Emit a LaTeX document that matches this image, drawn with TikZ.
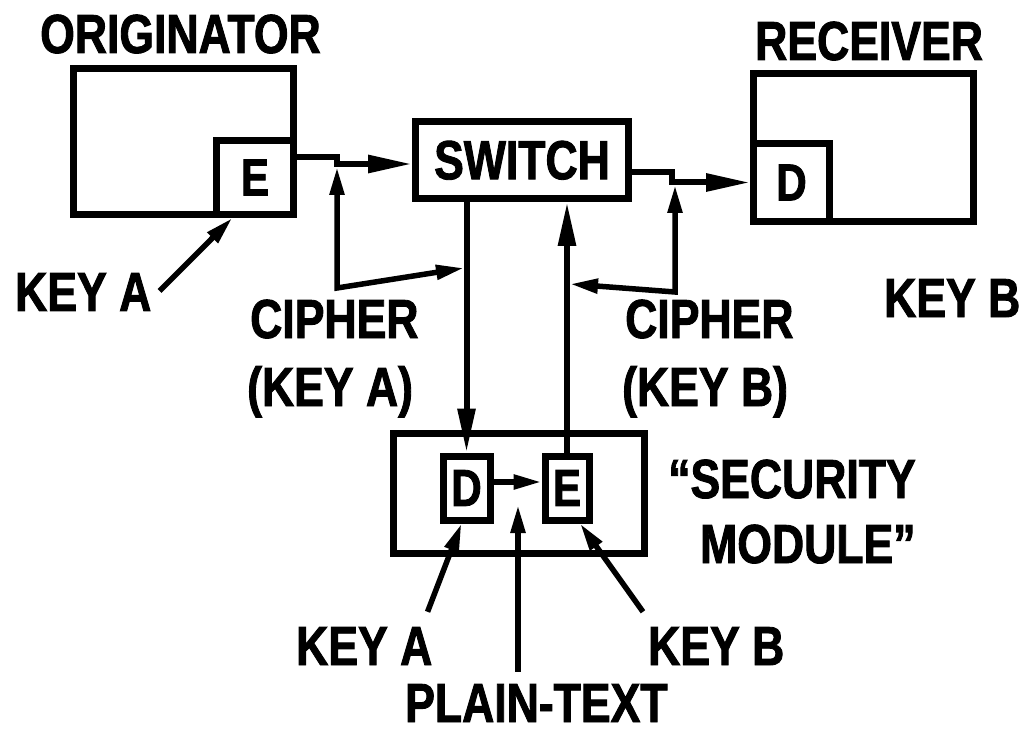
\documentclass[tikz,border=0pt]{standalone}
\usepackage{fontspec}
\newfontfamily\labfont{Liberation Sans}[FakeStretch=0.81, BoldFeatures={FakeBold=1.6}]
\usetikzlibrary{arrows.meta,calc}
\begin{document}
\begin{tikzpicture}[x=1pt,y=-1pt,
  lab/.style={font={\labfont\bfseries\fontsize{55}{60}\selectfont}, inner sep=0pt, text height=40pt, text depth=0pt, anchor=west},
  box/.style={draw, line width=7pt, inner sep=0pt},
  bigletter/.style={font={\labfont\bfseries\fontsize{52}{56}\selectfont}},
  conn/.style={line width=6pt, -{Triangle[length=44pt,width=17pt]}},
  small/.style={line width=5.5pt, -{Triangle[length=28pt,width=14pt]}},
  both/.style={line width=5.5pt, line join=miter, {Triangle[length=28pt,width=14pt]}-{Triangle[length=28pt,width=14pt]}},
]
\fill[white] (0,0) rectangle (1028,735);
\useasboundingbox (0,0) rectangle (1028,735);

% boxes
\node[box, minimum width=220pt, minimum height=146pt] (orig) at (183.5,141.5) {};
\node[box, bigletter, minimum width=77pt, minimum height=74pt] (origE) at (255,177.5) {E};
\node[box, lab, anchor=center, text height=, minimum width=213pt, minimum height=77pt] (switch) at (522,160) {SWITCH};
\node[box, minimum width=220pt, minimum height=148pt] (recv) at (863.5,147.5) {};
\node[box, bigletter, minimum width=76pt, minimum height=78pt] (recvD) at (791.5,182.5) {D};
\node[box, minimum width=251pt, minimum height=120pt] (sm) at (519,493.5) {};
\node[box, bigletter, minimum width=47pt, minimum height=64pt] (smD) at (466.5,488) {D};
\node[box, bigletter, minimum width=44pt, minimum height=64pt] (smE) at (567,488) {E};

% labels
\node[lab] (origt) at (40,33) {ORIGINATOR};
\node[lab] (recvt) at (755,40) {RECEIVER};
\node[lab] (keyA1) at (15,291) {KEY A};
\node[lab] (keyB1) at (884,297) {KEY B};
\node[lab] (cipA1) at (250,318) {CIPHER};
\node[lab] (cipA2) at (247,386) {(KEY A)};
\node[lab] (cipB1) at (625,318) {CIPHER};
\node[lab] (cipB2) at (622,386) {(KEY B)};
\node[lab] (smt1) at (668,478) {“SECURITY};
\node[lab] (smt2) at (700,543) {MODULE”};
\node[lab] (keyA2) at (296,645) {KEY A};
\node[lab] (keyB2) at (648,645) {KEY B};
\node[lab] (ptext) at (405,702) {PLAIN-TEXT};

% main data path
\coordinate (jA) at (337,157);
\draw[conn] (origE.east |- jA) -- (jA) |- ([yshift=-4pt]switch.west);
\coordinate (jB) at (672,172);
\draw[conn] (switch.east |- jB) -- (jB) |- (recvD.west);
\draw[conn] (switch.south -| smD.north) -- (smD.north);
\draw[conn] (smE.north) -- (switch.south -| smE.north);
\draw[small] ([yshift=6pt]smD.east) -- ([yshift=6pt]smE.west);

% plain text
\coordinate (pt) at (518,505);
\coordinate (ptb) at ($(ptext.north -| pt)+(0,-10)$);
\draw[small] (ptb) -- (pt);

% keys
\draw[small] ([xshift=8pt]keyA1.east) -- ($(origE.south west)!0.23!(origE.south east)$);
\draw[small] ($(keyA2.north east)+(-5,-13)$) -- ([xshift=-5pt]smD.south);
\draw[small] ($(keyB2.north west)+(-5,-13)$) -- ([xshift=13pt]smE.south);

% cipher brackets
\coordinate (cAt) at (337,167);
\coordinate (cAc) at (337,288);
\coordinate (cAr) at (464,268);
\draw[both] (cAt) -- (cAc) -- (cAr);
\coordinate (cBt) at (675,185);
\coordinate (cBc) at (675,292);
\coordinate (cBl) at (570,284);
\draw[both] (cBt) -- (cBc) -- (cBl);
\end{tikzpicture}
\end{document}
